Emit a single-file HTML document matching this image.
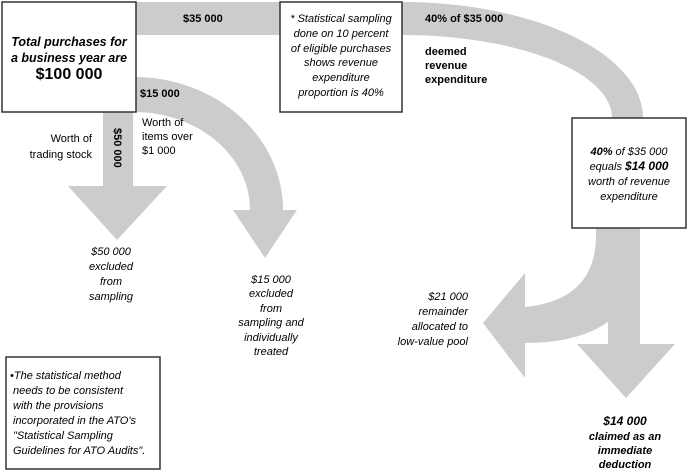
<!DOCTYPE html>
<html><head><style>
body{margin:0;background:#fff;}
svg{display:block;font-family:"Liberation Sans",Arial,sans-serif;}
</style></head><body>
<svg width="690" height="475" viewBox="0 0 690 475" xmlns="http://www.w3.org/2000/svg">
<g fill="#cccccc">
<!-- top band -->
<rect x="130" y="2" width="280" height="33"/>
<path d="M402 2 A241 116 0 0 1 643 118 L612 118 A210 83 0 0 0 402 35 Z"/>
<!-- vertical band below box3 -->
<rect x="596" y="225" width="44" height="60"/>
<!-- down arrow right -->
<path d="M608 260 L640 260 L640 344 L675 344 L626 398 L577 344 L608 344 Z"/>
<!-- left curved arrow -->
<path d="M596 235 L640 235 L640 270 Q625 343 525 343 L525 378 L483 323 L525 273 L525 307 Q596 300 596 235 Z"/>
<!-- left down arrow -->
<path d="M103 110 L133 110 L133 186 L167 186 L117 240 L68 186 L103 186 Z"/>
<!-- middle arc -->
<path d="M134 77 A149 133 0 0 1 283 210 L297 210 L265 258 L233 210 L250 210 A116 98 0 0 0 134 112 Z"/>
</g>
<g fill="#fff" stroke="#333" stroke-width="1.5">
<rect x="2" y="2" width="134" height="110"/>
<rect x="280" y="2" width="122" height="110"/>
<rect x="572" y="118" width="114" height="110"/>
<rect x="6" y="357" width="154" height="112"/>
</g>
<g font-style="italic" font-weight="bold" fill="#000" text-anchor="middle">
<text x="69" y="46" font-size="12.5">Total purchases for</text>
<text x="69" y="62" font-size="12.5">a business year are</text>
<text x="69" y="79" font-size="16" font-style="normal">$100 000</text>
</g>
<g font-size="11" fill="#000" font-weight="bold">
<text x="183" y="22">$35 000</text>
<text x="425" y="22">40% of $35 000</text>
<text x="425" y="55">deemed</text>
<text x="425" y="69">revenue</text>
<text x="425" y="83">expenditure</text>
<text x="140" y="97">$15 000</text>
<text transform="translate(114,128) rotate(90)">$50 000</text>
</g>
<g font-size="11" fill="#000">
<text x="92" y="142" text-anchor="end">Worth of</text>
<text x="92" y="158" text-anchor="end">trading stock</text>
<text x="142" y="126">Worth of</text>
<text x="142" y="140">items over</text>
<text x="142" y="154">$1 000</text>
</g>
<g font-size="11" fill="#000" font-style="italic" text-anchor="middle">
<text x="341" y="22">* Statistical sampling</text>
<text x="341" y="37">done on 10 percent</text>
<text x="341" y="52">of eligible purchases</text>
<text x="341" y="66">shows revenue</text>
<text x="341" y="81">expenditure</text>
<text x="341" y="96">proportion is 40%</text>
<text x="629" y="155"><tspan font-weight="bold">40%</tspan> of $35 000</text>
<text x="629" y="170">equals <tspan font-weight="bold" font-size="12">$14 000</tspan></text>
<text x="629" y="185">worth of revenue</text>
<text x="629" y="200">expenditure</text>
<text x="111" y="255">$50 000</text>
<text x="111" y="270">excluded</text>
<text x="111" y="285">from</text>
<text x="111" y="300">sampling</text>
<text x="271" y="283">$15 000</text>
<text x="271" y="297">excluded</text>
<text x="271" y="312">from</text>
<text x="271" y="326">sampling and</text>
<text x="271" y="341">individually</text>
<text x="271" y="355">treated</text>
<text x="468" y="300" text-anchor="end">$21 000</text>
<text x="468" y="315" text-anchor="end">remainder</text>
<text x="468" y="330" text-anchor="end">allocated to</text>
<text x="468" y="345" text-anchor="end">low-value pool</text>
<g font-weight="bold">
<text x="625" y="425" font-size="12">$14 000</text>
<text x="625" y="440">claimed as an</text>
<text x="625" y="454">immediate</text>
<text x="625" y="468">deduction</text>
</g>
</g>
<g font-size="11" fill="#000" font-style="italic">
<text x="10" y="379">•The statistical  method</text>
<text x="13" y="394">needs to be consistent</text>
<text x="13" y="409">with the provisions</text>
<text x="13" y="424">incorporated in the ATO's</text>
<text x="13" y="439">"Statistical Sampling</text>
<text x="13" y="454">Guidelines for ATO Audits".</text>
</g>
</svg>
</body></html>
